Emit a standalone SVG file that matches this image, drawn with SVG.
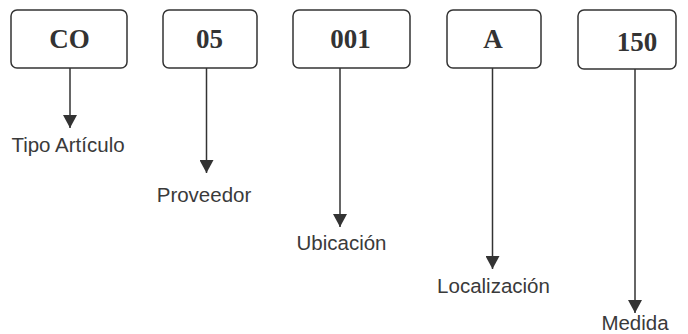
<svg xmlns="http://www.w3.org/2000/svg" width="688" height="334" viewBox="0 0 688 334">
  <style>
    .box { fill: #ffffff; stroke: #333333; stroke-width: 1.5; }
    .code { font-family: "Liberation Serif", "Times New Roman", serif; font-weight: bold; font-size: 27px; fill: #333333; text-anchor: middle; }
    .label { font-family: "Liberation Sans", Arial, sans-serif; font-size: 20.5px; fill: #3a3a3a; text-anchor: middle; }
    .wire { stroke: #333333; stroke-width: 1.5; fill: none; }
  </style>
  <defs>
    <marker id="arrow" viewBox="0 0 13 14" refX="13" refY="7" markerWidth="13" markerHeight="14" markerUnits="userSpaceOnUse" orient="auto">
      <path d="M0,0 L13,7 L0,14 Z" fill="#333333"/>
    </marker>
  </defs>
  <rect width="688" height="334" fill="#ffffff"/>

  <g id="connectors">
    <line class="wire" x1="70" y1="68" x2="70" y2="128" marker-end="url(#arrow)"/>
    <line class="wire" x1="206.5" y1="68" x2="206.5" y2="173" marker-end="url(#arrow)"/>
    <line class="wire" x1="340" y1="68" x2="340" y2="227" marker-end="url(#arrow)"/>
    <line class="wire" x1="492.5" y1="68" x2="492.5" y2="269" marker-end="url(#arrow)"/>
    <line class="wire" x1="635" y1="69" x2="635" y2="313" marker-end="url(#arrow)"/>
  </g>

  <g id="node-co">
    <rect class="box" x="11" y="10" width="116" height="58" rx="6"/>
    <text class="code" x="69.5" y="48">CO</text>
  </g>
  <g id="node-05">
    <rect class="box" x="163" y="10" width="94" height="58" rx="6"/>
    <text class="code" x="209.5" y="48">05</text>
  </g>
  <g id="node-001">
    <rect class="box" x="293" y="10" width="117" height="58" rx="6"/>
    <text class="code" x="350.5" y="48">001</text>
  </g>
  <g id="node-a">
    <rect class="box" x="447" y="10" width="94" height="58" rx="6"/>
    <text class="code" x="493" y="48">A</text>
  </g>
  <g id="node-150">
    <rect class="box" x="578" y="10" width="98" height="59" rx="6"/>
    <text class="code" x="637" y="51">150</text>
  </g>

  <g id="label-tipo">
    <text class="label" x="68" y="152">Tipo Artículo</text>
  </g>
  <g id="label-proveedor">
    <text class="label" x="204" y="202">Proveedor</text>
  </g>
  <g id="label-ubicacion">
    <text class="label" x="341.5" y="250">Ubicación</text>
  </g>
  <g id="label-localizacion">
    <text class="label" x="493.5" y="293">Localización</text>
  </g>
  <g id="label-medida">
    <text class="label" x="635" y="330">Medida</text>
  </g>
</svg>
